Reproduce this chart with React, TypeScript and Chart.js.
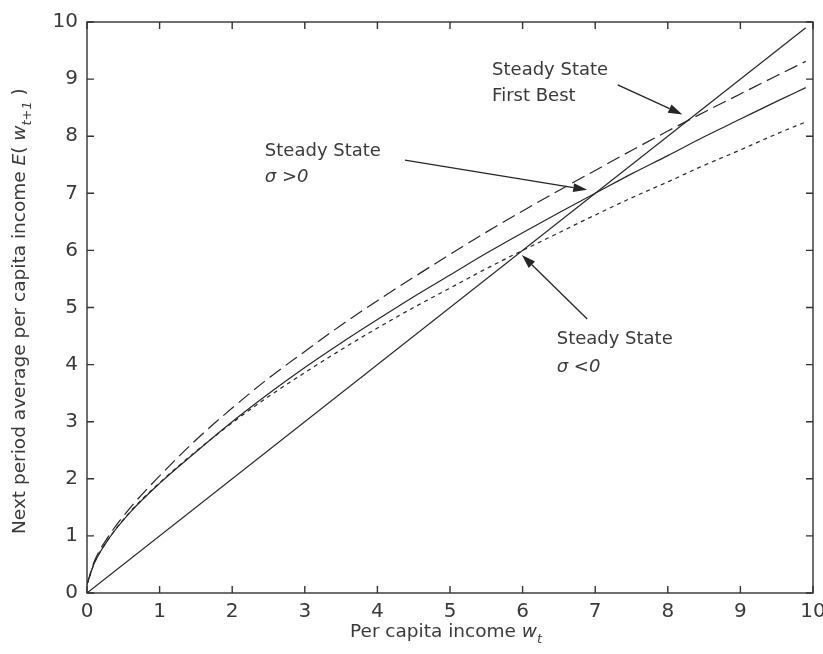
import React, { useEffect, useRef } from 'react';
import { Chart, registerables } from 'chart.js';

Chart.register(...registerables);

// ---- data ----
const incomeX = [0, 0.1, 0.3, 0.6, 1, 1.5, 2, 2.5, 3, 3.5, 4, 4.5, 5, 5.5, 6, 6.5, 7, 7.5, 8, 8.5, 9, 9.5, 9.9];
const firstBest = [0.15, 0.55, 1.0, 1.5, 2.05, 2.68, 3.24, 3.76, 4.23, 4.69, 5.12, 5.53, 5.93, 6.32, 6.69, 7.05, 7.4, 7.75, 8.09, 8.42, 8.74, 9.06, 9.31];
const sigmaPositive = [0.15, 0.52, 0.95, 1.42, 1.92, 2.47, 3.0, 3.49, 3.95, 4.38, 4.79, 5.19, 5.57, 5.95, 6.31, 6.66, 7.0, 7.34, 7.66, 7.99, 8.3, 8.61, 8.85];
const sigmaNegative = [0.15, 0.52, 0.95, 1.43, 1.93, 2.48, 2.98, 3.44, 3.86, 4.26, 4.64, 5.0, 5.34, 5.68, 6.0, 6.31, 6.62, 6.92, 7.2, 7.49, 7.76, 8.04, 8.25];
const diagonalX = [0, 9.9];
const diagonalY = [0, 9.9];
const tickValues = [0, 1, 2, 3, 4, 5, 6, 7, 8, 9, 10];

// annotation labels (data coordinates of first baseline start) and arrows (tail -> tip)
const labelFirstBest = ['Steady State', 'First Best'];
const labelSigmaPos = ['Steady State', 'σ >0'];
const labelSigmaNeg = ['Steady State', 'σ <0'];
const labelAnchors = [
  { lines: labelFirstBest, x: 5.58, y: 9.07, y2: 8.62, italic2: false },
  { lines: labelSigmaPos, x: 2.45, y: 7.65, y2: 7.2, italic2: true },
  { lines: labelSigmaNeg, x: 6.47, y: 4.36, y2: 3.87, italic2: true },
];
const arrows = [
  { x1: 7.31, y1: 8.9, x2: 8.2, y2: 8.38 },
  { x1: 4.38, y1: 7.58, x2: 6.89, y2: 7.06 },
  { x1: 6.89, y1: 4.8, x2: 5.99, y2: 5.92 },
];

const FONT = '"DejaVu Sans", Arial, sans-serif';
const TEXT_COLOR = '#3a3a3a';
const LINE_COLOR = '#262626';

type Seg = { text: string; italic?: boolean; sub?: boolean };

function drawRich(ctx: CanvasRenderingContext2D, segs: Seg[], x: number, y: number, size: number) {
  let cx = x;
  for (const s of segs) {
    const sz = s.sub ? Math.round(size * 0.72) : size;
    ctx.font = `${s.italic ? 'italic ' : ''}${sz}px ${FONT}`;
    ctx.fillText(s.text, cx, y + (s.sub ? size * 0.3 : 0));
    cx += ctx.measureText(s.text).width;
  }
}

const overlayPlugin = {
  id: 'overlay',
  afterDraw(chart: any) {
    const ctx: CanvasRenderingContext2D = chart.ctx;
    const xs = chart.scales.x;
    const ys = chart.scales.y;
    const { left, right, top, bottom } = chart.chartArea;
    ctx.save();
    // frame
    ctx.strokeStyle = '#333';
    ctx.lineWidth = 1.4;
    ctx.strokeRect(left, top, right - left, bottom - top);
    // inward ticks on all sides
    const tl = 7;
    ctx.beginPath();
    for (const v of tickValues) {
      const px = xs.getPixelForValue(v);
      ctx.moveTo(px, bottom); ctx.lineTo(px, bottom - tl);
      ctx.moveTo(px, top); ctx.lineTo(px, top + tl);
      const py = ys.getPixelForValue(v);
      ctx.moveTo(left, py); ctx.lineTo(left + tl, py);
      ctx.moveTo(right, py); ctx.lineTo(right - tl, py);
    }
    ctx.stroke();

    // annotation labels
    ctx.fillStyle = TEXT_COLOR;
    ctx.textBaseline = 'alphabetic';
    ctx.textAlign = 'left';
    for (const a of labelAnchors) {
      const px = xs.getPixelForValue(a.x);
      ctx.font = `18px ${FONT}`;
      ctx.fillText(a.lines[0], px, ys.getPixelForValue(a.y));
      ctx.font = `${a.italic2 ? 'italic ' : ''}18px ${FONT}`;
      ctx.fillText(a.lines[1], px, ys.getPixelForValue(a.y2));
    }

    // arrows
    ctx.strokeStyle = LINE_COLOR;
    ctx.fillStyle = LINE_COLOR;
    ctx.lineWidth = 1.3;
    for (const a of arrows) {
      const x1 = xs.getPixelForValue(a.x1), y1 = ys.getPixelForValue(a.y1);
      const x2 = xs.getPixelForValue(a.x2), y2 = ys.getPixelForValue(a.y2);
      const ang = Math.atan2(y2 - y1, x2 - x1);
      const hl = 14, hw = 4.5;
      const bx = x2 - hl * Math.cos(ang), by = y2 - hl * Math.sin(ang);
      ctx.beginPath();
      ctx.moveTo(x1, y1);
      ctx.lineTo(bx, by);
      ctx.stroke();
      ctx.beginPath();
      ctx.moveTo(x2, y2);
      ctx.lineTo(bx + hw * Math.sin(ang), by - hw * Math.cos(ang));
      ctx.lineTo(bx - hw * Math.sin(ang), by + hw * Math.cos(ang));
      ctx.closePath();
      ctx.fill();
    }

    // axis titles
    ctx.fillStyle = TEXT_COLOR;
    drawRich(ctx, [
      { text: 'Per capita income ' },
      { text: 'w', italic: true },
      { text: 't', italic: true, sub: true },
    ], 350, 637, 18.5);

    ctx.save();
    ctx.translate(25, 534);
    ctx.rotate(-Math.PI / 2);
    drawRich(ctx, [
      { text: 'Next period average per capita income ' },
      { text: 'E', italic: true },
      { text: '( ' },
      { text: 'w', italic: true },
      { text: 't+1', italic: true, sub: true },
      { text: ' )' },
    ], 0, 0, 18.5);
    ctx.restore();
    ctx.restore();
  },
};

function pts(xv: number[], yv: number[]) {
  return xv.map((x, i) => ({ x, y: yv[i] }));
}

export default function App() {
  const ref = useRef<HTMLCanvasElement | null>(null);
  useEffect(() => {
    if (!ref.current) return;
    const common = { pointRadius: 0, borderWidth: 1.2, borderColor: LINE_COLOR, fill: false, cubicInterpolationMode: 'monotone' as const };
    const chart = new Chart(ref.current, {
      type: 'line',
      data: {
        datasets: [
          { ...common, label: '45 degree', data: pts(diagonalX, diagonalY) },
          { ...common, label: 'First best', data: pts(incomeX, firstBest), borderDash: [14, 6] },
          { ...common, label: 'sigma > 0', data: pts(incomeX, sigmaPositive) },
          { ...common, label: 'sigma < 0', data: pts(incomeX, sigmaNegative), borderDash: [4, 4] },
        ],
      },
      options: {
        responsive: false,
        animation: false,
        devicePixelRatio: 1,
        layout: { padding: { top: 22, right: 10, left: 0, bottom: 0 } },
        plugins: { legend: { display: false }, tooltip: { enabled: false } },
        scales: {
          x: {
            type: 'linear',
            min: 0,
            max: 10,
            grid: { display: false, drawTicks: false },
            border: { display: false },
            ticks: { stepSize: 1, color: TEXT_COLOR, font: { family: FONT, size: 20 }, padding: 7, maxRotation: 0 },
            afterFit: (s: any) => { s.height = 61; s.paddingLeft = 0; s.paddingRight = 0; },
          },
          y: {
            type: 'linear',
            min: 0,
            max: 10,
            grid: { display: false, drawTicks: false },
            border: { display: false },
            ticks: { stepSize: 1, color: TEXT_COLOR, font: { family: FONT, size: 20 }, padding: 9 },
            afterFit: (s: any) => { s.width = 87; s.paddingTop = 0; s.paddingBottom = 0; },
          },
        },
      },
      plugins: [overlayPlugin],
    });
    return () => chart.destroy();
  }, []);
  return (
    <div style={{ position: 'fixed', left: 0, top: 0, width: 823, height: 654, background: '#fff' }}>
      <canvas ref={ref} width={823} height={654} style={{ display: 'block' }} />
    </div>
  );
}
